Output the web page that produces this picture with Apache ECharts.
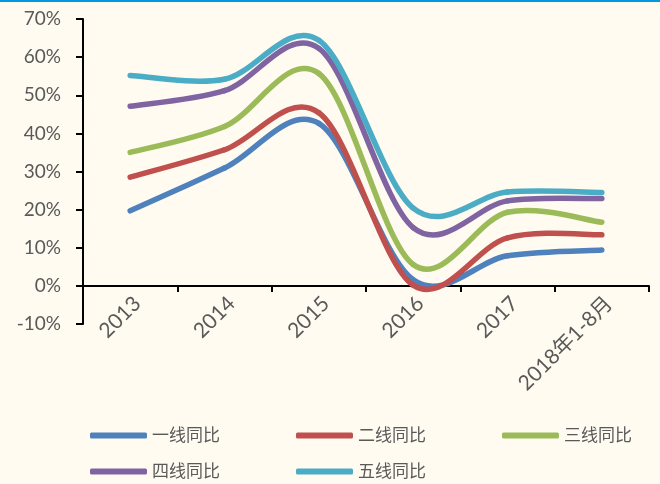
<!DOCTYPE html>
<html>
<head>
<meta charset="utf-8">
<script src="https://cdn.jsdelivr.net/npm/echarts@6/dist/echarts.min.js"></script>
<style>
html,body{margin:0;padding:0;background:#FFFBF0;}
#top{height:2px;background:#0099DD;width:660px;}
#chart{width:660px;height:482px;}
</style>
</head>
<body>
<div id="top"></div>
<div id="chart"></div>
<script>
const categories = ['2013', '2014', '2015', '2016', '2017', '2018年1-8月'];
const seriesNames = ['一线同比', '二线同比', '三线同比', '四线同比', '五线同比'];
const tier1 = [19.7, 30.9, 42.6, 1.6, 7.9, 9.4];
const tier2 = [28.5, 35.7, 45.4, 0.2, 12.6, 13.4];
const tier3 = [35.0, 41.8, 55.7, 5.6, 19.3, 16.7];
const tier4 = [47.1, 51.2, 62.3, 15.3, 22.3, 22.9];
const tier5 = [55.2, 54.2, 64.4, 20.4, 24.6, 24.5];
const yTicks = [-10, 0, 10, 20, 30, 40, 50, 60, 70];

const colors = ['#4F81BD', '#C0504D', '#9BBB59', '#8064A2', '#4BACC6'];
const allData = [tier1, tier2, tier3, tier4, tier5];
const font = 'Lato, "Noto Sans CJK SC", sans-serif';
const grey = '#595959';

const chart = echarts.init(document.getElementById('chart'), null, {renderer: 'canvas'});

const legendPos = [[90, 425], [296, 425], [502, 425], [90, 461], [296, 461]];
const legends = seriesNames.map((n, i) => ({
  data: [n],
  left: legendPos[i][0],
  top: legendPos[i][1],
  icon: 'roundRect',
  itemWidth: 57,
  itemHeight: 6,
  padding: 0,
  textStyle: {color: grey, fontSize: 17, fontFamily: font}
}));

// Smoothed line (Catmull-Rom style Bezier, like spreadsheet "smoothed line"),
// points placed through the chart's own axes via api.coord.
function makeRenderer(values, color) {
  return function (params, api) {
    if (params.dataIndex !== 0) return null;
    const pts = values.map((v, i) => api.coord([i, v]));
    const n = pts.length;
    const children = [];
    for (let i = 0; i < n - 1; i++) {
      const p0 = pts[Math.max(i - 1, 0)];
      const p1 = pts[i];
      const p2 = pts[i + 1];
      const p3 = pts[Math.min(i + 2, n - 1)];
      children.push({
        type: 'bezierCurve',
        shape: {
          x1: p1[0], y1: p1[1],
          cpx1: p1[0] + (p2[0] - p0[0]) / 6, cpy1: p1[1] + (p2[1] - p0[1]) / 6,
          cpx2: p2[0] - (p3[0] - p1[0]) / 6, cpy2: p2[1] - (p3[1] - p1[1]) / 6,
          x2: p2[0], y2: p2[1]
        },
        style: {stroke: color, lineWidth: 5.5, fill: null, lineCap: 'round', lineJoin: 'round'}
      });
    }
    return {type: 'group', children: children};
  };
}

chart.setOption({
  backgroundColor: '#FFFBF0',
  animation: false,
  color: colors,
  legend: legends,
  grid: {left: 83, right: 11, top: 17, bottom: 160, containLabel: false},
  xAxis: {
    type: 'category',
    data: categories,
    boundaryGap: true,
    axisLine: {onZero: true, lineStyle: {color: '#000', width: 2}},
    axisTick: {show: true, length: 6, lineStyle: {color: '#000', width: 2}},
    axisLabel: {
      interval: 0, rotate: 45, margin: -31, color: grey, fontSize: 21, fontFamily: font,
      verticalAlign: 'top', lineHeight: 20
    },
    splitLine: {show: false}
  },
  yAxis: {
    type: 'value',
    min: yTicks[0], max: yTicks[yTicks.length - 1], interval: 10,
    axisLine: {show: true, lineStyle: {color: '#000', width: 2}},
    axisTick: {show: true, length: 7, lineStyle: {color: '#000', width: 2}},
    axisLabel: {margin: 22, color: grey, fontSize: 19, fontFamily: font, formatter: v => v + '%'},
    splitLine: {show: false}
  },
  series: seriesNames.map((n, i) => ({
    name: n,
    type: 'custom',
    coordinateSystem: 'cartesian2d',
    data: allData[i].map((v, j) => [j, v]),
    encode: {x: 0, y: 1},
    renderItem: makeRenderer(allData[i], colors[i]),
    itemStyle: {color: colors[i]}
  }))
});
</script>
</body>
</html>
